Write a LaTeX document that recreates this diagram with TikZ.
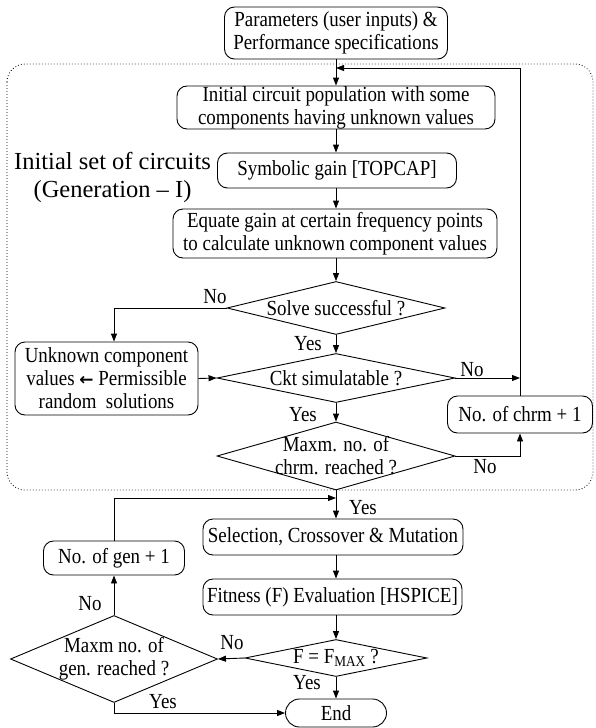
\documentclass[tikz,border=0pt]{standalone}
\usepackage{fontspec}
\setmainfont{Liberation Serif}[FakeStretch=0.88]
\newfontfamily\bigfont{Liberation Serif}
\newfontfamily\arrowfont{DejaVu Sans}
\usetikzlibrary{shapes.geometric,arrows.meta,calc}
\newcommand\mainsz{\fontsize{21.5}{23}\selectfont}
\newcommand\bigsz{\bigfont\fontsize{24.5}{28}\selectfont}
\newcommand\larr{{\arrowfont\bfseries\fontsize{17}{23}\selectfont ←}}
\begin{document}
\begin{tikzpicture}[x=1pt,y=-1pt, line width=0.9pt,
  box/.style={draw, rounded corners=10pt, inner sep=0pt, align=center, font=\mainsz},
  dia/.style={draw, diamond, inner sep=0pt, aspect=1},
  arr/.style={-{Triangle[length=8pt,width=6pt]}},
  lbl/.style={inner sep=0pt, align=center, font=\mainsz}]
\useasboundingbox (0,0) rectangle (595,728);
% dotted frame
\draw[line width=0.8pt, dash pattern=on 0.8pt off 2.2pt, rounded corners=18pt] (7,64) rectangle (593,490);
% nodes
\node[box, minimum width=223pt, minimum height=52pt] (params) at (336,33) {Parameters (user inputs) \&\\Performance specifications};
\node[box, minimum width=318pt, minimum height=43pt] (init) at (336,107.5) {Initial circuit population with some\\components having unknown values};
\node[box, minimum width=239pt, minimum height=35pt] (sym) at (337,170.5) {Symbolic gain [TOPCAP]};
\node[box, minimum width=324pt, minimum height=49pt] (equ) at (335,233.5) {Equate gain at certain frequency points\\to calculate unknown component values};
\node[dia, minimum width=218pt, minimum height=53pt] (solve) at (336,308) {};
\node[lbl] (solvet) at (solve) {Solve successful ?};
\node[box, minimum width=183pt, minimum height=73pt] (unk) at (106.5,378.5) {Unknown component\\values \larr\ Permissible\\random\ \ solutions};
\node[dia, minimum width=238pt, minimum height=49pt] (ckt) at (336,378) {};
\node[lbl] (cktt) at (ckt) {Ckt simulatable ?};
\node[box, minimum width=145pt, minimum height=37pt] (chrm) at (520,414.5) {No. of chrm + 1};
\node[dia, minimum width=238pt, minimum height=68pt] (chrmd) at (336,456) {};
\node[lbl] (chrmdt) at (chrmd) {Maxm. no. of\\chrm. reached ?};
\node[box, minimum width=260pt, minimum height=36pt] (sel) at (333,537) {Selection, Crossover \& Mutation};
\node[box, minimum width=259pt, minimum height=36pt] (fit) at (332.5,597) {Fitness (F) Evaluation [HSPICE]};
\node[dia, minimum width=182pt, minimum height=37pt] (fmax) at (336,658) {};
\node[lbl] (fmaxt) at (fmax) {F = F\textsubscript{MAX} ?};
\node[dia, minimum width=207pt, minimum height=87pt] (gend) at (114,659) {};
\node[lbl] (gendt) at (gend) {Maxm no. of\\gen. reached ?};
\node[box, minimum width=141pt, minimum height=34pt] (gen) at (114,558) {No. of gen + 1};
\node[box, rounded corners=14pt, minimum width=101pt, minimum height=28pt] (end) at (336,713) {End};
\node[inner sep=0pt, align=center, font=\bigsz] (gen1) at (112.5,177) {Initial set of circuits\\(Generation – I)};
% coordinates
\coordinate (fb) at (336,68);
\coordinate (jn) at (336,498);
% connectors
\draw[arr] (params.south) -- (params.south |- init.north);
\draw[arr] (fb |- init.south) -- (fb |- sym.north);
\draw[arr] (fb |- sym.south) -- (fb |- equ.north);
\draw[arr] (fb |- equ.south) -- (solve.north);
\draw[arr] (chrm.north) |- (fb);
\draw[arr] (solve.west) -| ([xshift=7.5pt]unk.north);
\draw[arr] (solve.south) -- (ckt.north);
\draw[arr] (unk.east) -- (ckt.west);
\draw[arr] (ckt.east) -- (ckt.east -| chrm.north);
\draw[arr] (ckt.south) -- (chrmd.north);
\draw[arr] (chrmd.east) -| (chrm.south);
\draw[arr] (chrmd.south) -- (chrmd.south |- sel.north);
\draw[arr] (gen.north) |- (jn);
\draw[arr] (jn |- sel.south) -- (jn |- fit.north);
\draw[arr] (jn |- fit.south) -- (fmax.north);
\draw[arr] (fmax.west) -- (gend.east);
\draw[arr] (fmax.south) -- (end.north);
\draw[arr] (gend.north) -- (gen.south);
\draw[arr] (gend.south) |- (end.west);
% labels
\node[lbl] (l1) at (215,297) {No};
\node[lbl] (l2) at (308,344) {Yes};
\node[lbl] (l3) at (472,370) {No};
\node[lbl] (l4) at (303,415) {Yes};
\node[lbl] (l5) at (485,467) {No};
\node[lbl] (l6) at (363,508) {Yes};
\node[lbl] (l7) at (90,604) {No};
\node[lbl] (l8) at (232,643) {No};
\node[lbl] (l9) at (307,683) {Yes};
\node[lbl] (l10) at (163,702) {Yes};
\end{tikzpicture}
\end{document}
